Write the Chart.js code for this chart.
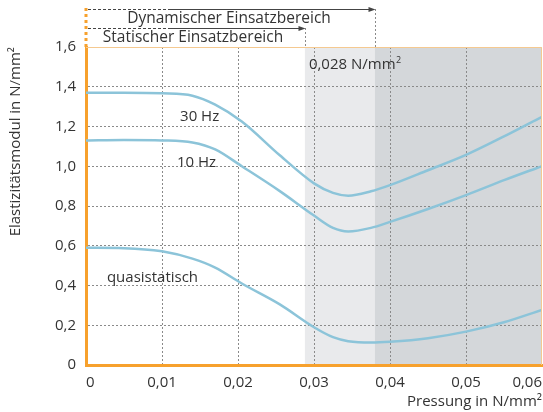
<!DOCTYPE html>
<html>
<head>
<meta charset="utf-8">
<script src="https://cdn.jsdelivr.net/npm/chart.js@4.4.1/dist/chart.umd.min.js"></script>
<style>
	body { margin: 0; background: #fff; }
</style>
</head>
<body>
<canvas id="myChart" width="543" height="412"></canvas>
<script>
// Pressung in N/mm²
const pressure = [0, 0.005, 0.01, 0.014, 0.017, 0.0205, 0.0255, 0.03, 0.0325, 0.0345, 0.0375, 0.04, 0.045, 0.05, 0.055, 0.06];
// Elastizitätsmodul in N/mm²
const hz30 = [1.37, 1.37, 1.367, 1.355, 1.31, 1.225, 1.055, 0.914, 0.866, 0.852, 0.874, 0.905, 0.98, 1.057, 1.15, 1.249];
const hz10 = [1.13, 1.132, 1.13, 1.12, 1.085, 1.0, 0.875, 0.752, 0.69, 0.672, 0.69, 0.72, 0.785, 0.855, 0.93, 1.001];
const quasi = [0.59, 0.588, 0.572, 0.535, 0.49, 0.41, 0.305, 0.19, 0.14, 0.12, 0.113, 0.117, 0.135, 0.168, 0.215, 0.277];

const seriesNames = ['30 Hz', '10 Hz', 'quasistatisch'];
// where the curve names sit [x, y]
const namePos = [[0.01495, 1.248], [0.01455, 1.016], [0.00875, 0.438]];

// Einsatzbereiche (x)
const staticLimit = 0.0288;
const dynamicLimit = 0.038;
const xMax = 0.06;

const ORANGE = '#f7a12d';
const LIGHT_ORANGE = '#f5c990';
const BLUE = '#8cc4d9';
const TEXT = '#333333';
const FONT = '"Open Sans", sans-serif';

function toPts(ys) {
	return pressure.map((x, i) => ({ x: x, y: ys[i] }));
}

function comma(v, d) {
	if (Math.abs(v) < 1e-9) return '0';
	return v.toFixed(d).replace('.', ',');
}

const zonesPlugin = {
	id: 'zones',
	beforeDraw(chart) {
		const c = chart.ctx, a = chart.chartArea, xs = chart.scales.x;
		const x1 = xs.getPixelForValue(staticLimit);
		const x2 = xs.getPixelForValue(dynamicLimit);
		const x3 = xs.getPixelForValue(xMax);
		c.save();
		c.fillStyle = '#e9eaec';
		c.fillRect(x1, a.top, x2 - x1, a.bottom - a.top);
		c.fillStyle = '#d4d7da';
		c.fillRect(x2, a.top, x3 - x2, a.bottom - a.top);
		c.restore();
	},
	afterDraw(chart) {
		const c = chart.ctx, a = chart.chartArea, xs = chart.scales.x, ys = chart.scales.y;
		const xs1 = Math.round(xs.getPixelForValue(staticLimit)) + 0.5;
		const xd1 = Math.round(xs.getPixelForValue(dynamicLimit)) + 0.5;
		c.save();

		// top + right border
		c.strokeStyle = LIGHT_ORANGE;
		c.lineWidth = 1;
		c.beginPath();
		c.moveTo(a.left, a.top + 0.5);
		c.lineTo(a.right - 0.5, a.top + 0.5);
		c.lineTo(a.right - 0.5, a.bottom);
		c.stroke();

		// orange dotted line above the y axis
		c.strokeStyle = ORANGE;
		c.lineWidth = 3;
		c.setLineDash([3, 3]);
		c.beginPath();
		c.moveTo(a.left, 8);
		c.lineTo(a.left, a.top);
		c.stroke();

		// vertical dotted markers
		c.strokeStyle = '#8a8a8a';
		c.lineWidth = 1;
		c.setLineDash([2, 2]);
		c.beginPath();
		c.moveTo(xd1, 9);
		c.lineTo(xd1, a.top);
		c.moveTo(xs1, 28);
		c.lineTo(xs1, a.top);
		c.stroke();

		// arrows
		function arrow(y, xEnd) {
			c.strokeStyle = '#444';
			c.lineWidth = 1;
			c.setLineDash([3, 2]);
			c.beginPath();
			c.moveTo(a.left + 2, y);
			c.lineTo(168, y);
			c.stroke();
			c.setLineDash([]);
			c.beginPath();
			c.moveTo(168, y);
			c.lineTo(xEnd - 5, y);
			c.stroke();
			c.fillStyle = '#444';
			c.beginPath();
			c.moveTo(xEnd, y);
			c.lineTo(xEnd - 7, y - 2.5);
			c.lineTo(xEnd - 7, y + 2.5);
			c.closePath();
			c.fill();
		}
		arrow(9.5, xd1);
		arrow(28.5, xs1);

		c.fillStyle = TEXT;
		c.font = '15.5px ' + FONT;
		c.textAlign = 'center';
		c.textBaseline = 'middle';
		c.fillText('Dynamischer Einsatzbereich', 229, 19);
		c.fillText('Statischer Einsatzbereich', 193, 38);

		// curve names
		c.font = '15px ' + FONT;
		seriesNames.forEach((n, i) => {
			c.fillText(n, xs.getPixelForValue(namePos[i][0]), ys.getPixelForValue(namePos[i][1]));
		});

		// static limit label
		c.textAlign = 'left';
		c.font = '15px ' + FONT;
		const lx = xs.getPixelForValue(staticLimit) + 4;
		const ly = 65;
		c.fillText('0,028 N/mm', lx, ly);
		const w = c.measureText('0,028 N/mm').width;
		c.font = '9px ' + FONT;
		c.fillText('2', lx + w + 0.5, ly - 5);
		c.restore();
	}
};

const ctx = document.getElementById('myChart');

new Chart(ctx, {
	type: 'line',
	data: {
		datasets: [
			{ label: seriesNames[0], data: toPts(hz30) },
			{ label: seriesNames[1], data: toPts(hz10) },
			{ label: seriesNames[2], data: toPts(quasi) }
		].map(d => Object.assign(d, {
			borderColor: BLUE,
			borderWidth: 2.5,
			pointRadius: 0,
			cubicInterpolationMode: 'monotone',
			fill: false
		}))
	},
	options: {
		responsive: false,
		animation: false,
		layout: { autoPadding: false, padding: { top: 47, right: 1, left: 0, bottom: 0 } },
		plugins: {
			legend: { display: false },
			tooltip: { enabled: false }
		},
		scales: {
			x: {
				type: 'linear',
				min: 0,
				max: xMax,
				afterFit(scale) {
					scale.height = 47;
					scale.paddingLeft = 0;
					scale.paddingRight = 0;
				},
				border: { color: ORANGE, width: 3, dash: [2, 2] },
				grid: {
					drawTicks: false,
					color: (c) => (c.tick && (c.tick.value === 0 || Math.abs(c.tick.value - xMax) < 1e-9)) ? 'rgba(0,0,0,0)' : '#8a8a8a'
				},
				ticks: {
					stepSize: 0.01,
					align: 'inner',
					padding: 9,
					color: TEXT,
					font: { family: FONT, size: 15 },
					callback: (v) => comma(v, 2)
				},
				title: {
					display: true,
					text: 'Pressung in N/mm²',
					align: 'end',
					color: TEXT,
					font: { family: FONT, size: 15 },
					padding: { top: 0, bottom: 1 }
				}
			},
			y: {
				min: 0,
				max: 1.6,
				afterFit(scale) { scale.width = 86; },
				border: { color: ORANGE, width: 3, dash: [2, 2] },
				grid: {
					drawTicks: false,
					color: (c) => (c.tick && (c.tick.value === 0 || c.tick.value > 1.59)) ? 'rgba(0,0,0,0)' : '#8a8a8a'
				},
				ticks: {
					stepSize: 0.2,
					padding: 10,
					color: TEXT,
					font: { family: FONT, size: 15 },
					callback: (v) => comma(v, 1)
				},
				title: {
					display: true,
					text: 'Elastizitätsmodul in N/mm²',
					align: 'end',
					color: TEXT,
					font: { family: FONT, size: 15 },
					padding: { top: 7, bottom: 0 }
				}
			}
		}
	},
	plugins: [zonesPlugin]
});
</script>
</body>
</html>
